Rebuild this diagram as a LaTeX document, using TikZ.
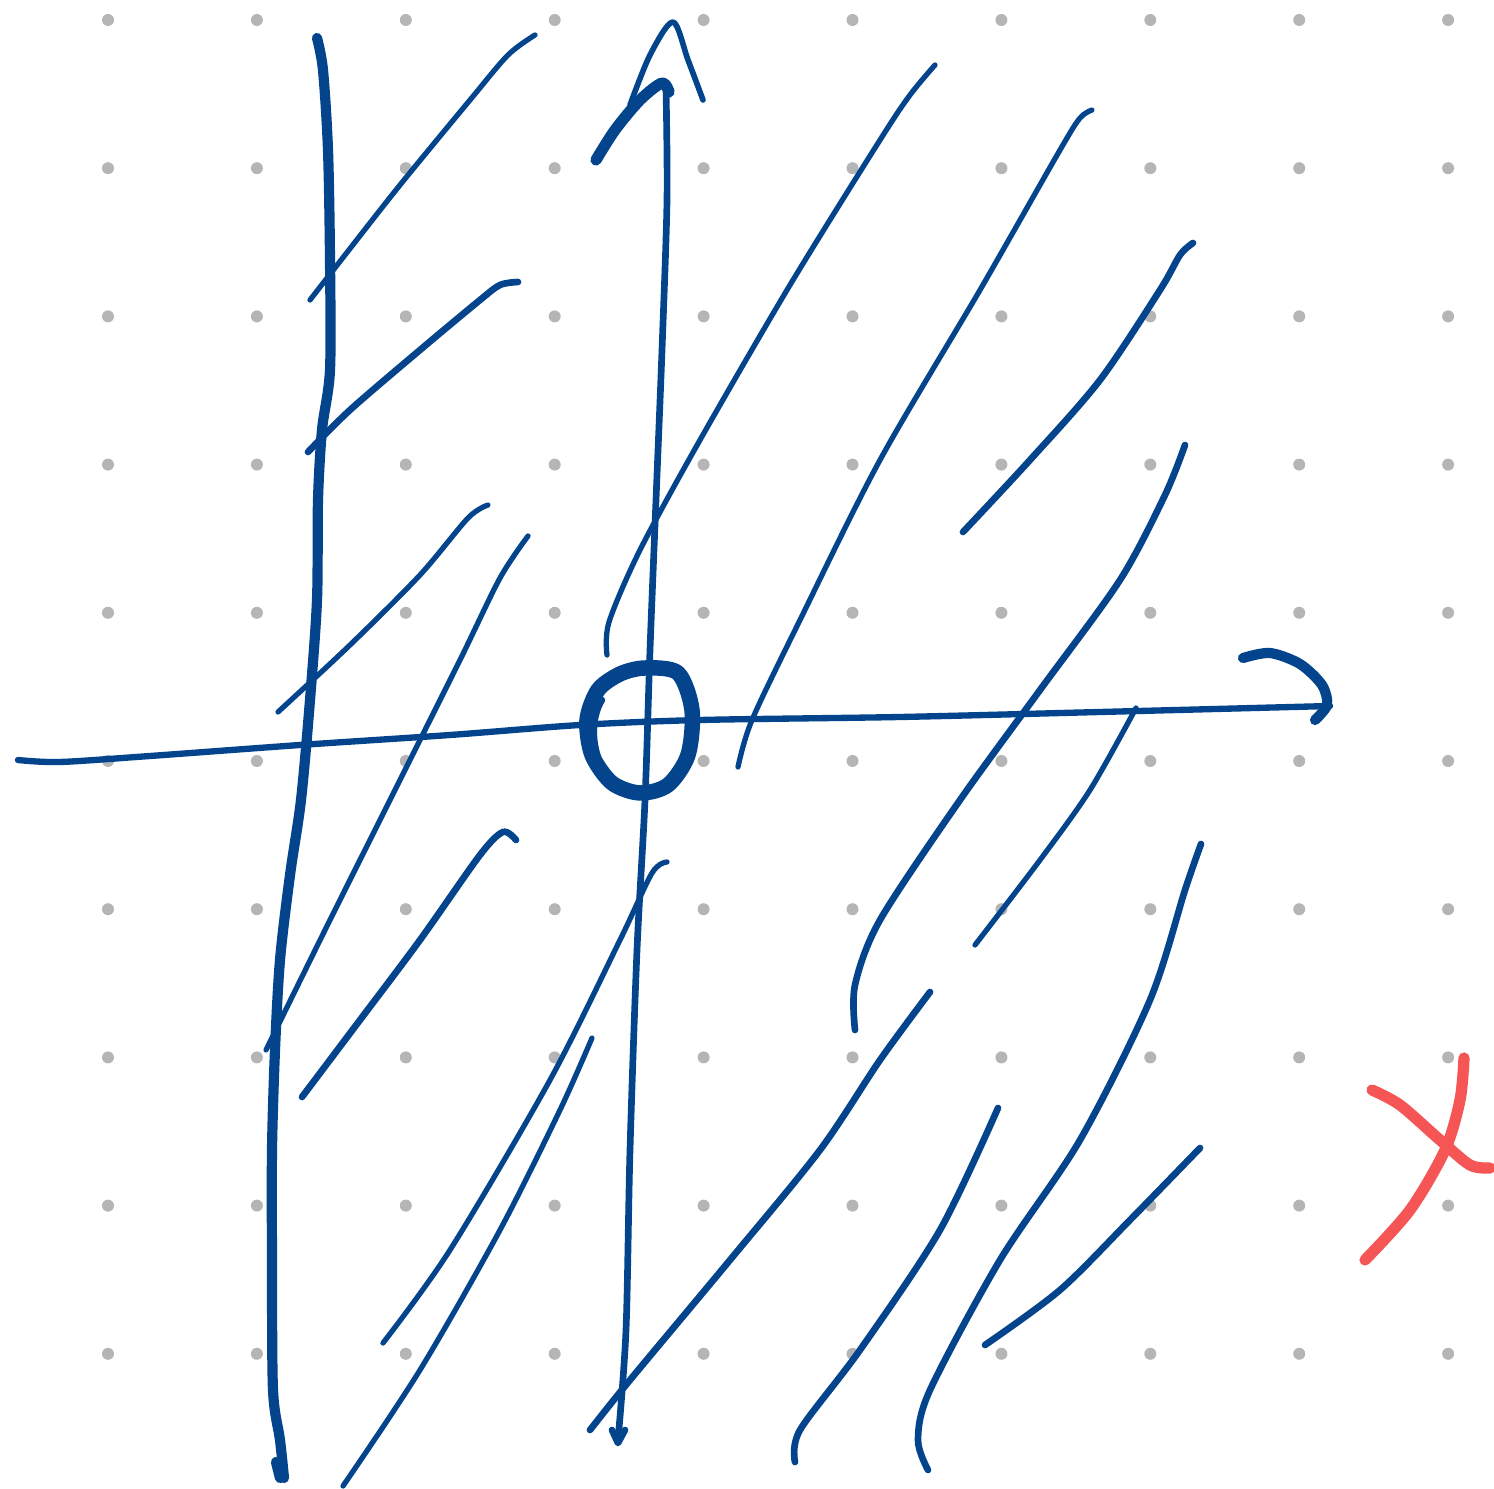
\documentclass[tikz,border=0pt]{standalone}
\usetikzlibrary{calc}

\definecolor{inkblue}{HTML}{03448C}
\definecolor{inkred}{HTML}{F55555}
\definecolor{dotgray}{HTML}{B5B5B5}

\begin{document}
\begin{tikzpicture}[
  x=0.01cm, y=-0.01cm,
  pen/.style={draw=inkblue, line width=1.5pt, line cap=round, line join=round},
  penmid/.style={pen, line width=1.9pt},
  penthick/.style={pen, line width=2.9pt},
  penbold/.style={pen, line width=3.2pt},
  redpen/.style={draw=inkred, line width=3.2pt, line cap=round, line join=round},
  griddot/.style={fill=dotgray}
]
\useasboundingbox (0,0) rectangle (1494,1489);

% dot grid
\foreach \i in {0,...,9}
  \foreach \j in {0,...,9}
    \fill[griddot] ({108+148.9*\i},{20+148.2*\j}) circle (6);

% left thick vertical stroke
\draw[penthick] plot[smooth] coordinates {(317,38) (323,70) (328,150) (330,260) (330,370) (322,430)
  (318,500) (317,600) (310,700) (301,800) (290,875) (280,960) (275,1050) (272,1150)
  (272,1260) (273,1390) (280,1440) (284,1478)};
\draw[penthick] (276,1462) -- (280,1478);

% vertical axis with arrow
\draw[pen, line width=1.9pt] plot[smooth] coordinates {(618,1440) (626,1330) (630,1150) (637,950)
  (645,800) (650,650) (656,500) (662,350) (667,200) (666,88)};
\draw[pen, line width=1.9pt] (612,1430) -- (618,1443) -- (625,1430);
\draw[pen, line width=1.6pt] plot[smooth] coordinates {(630,105) (650,55) (673,22) (688,60) (703,100)};
\draw[penbold] plot[smooth] coordinates {(596,160) (615,130) (640,100) (662,83) (669,92)};

% horizontal axis with arrow
\draw[pen, line width=1.8pt] plot[smooth] coordinates {(18,760) (60,762) (150,756) (300,745)
  (450,735) (580,725) (700,720) (900,717) (1100,712) (1330,706)};
\draw[penthick] plot[smooth] coordinates {(1243,658) (1270,653) (1300,664) (1322,685) (1327,705) (1315,720)};

% origin
\draw[penbold, line width=4.4pt] plot[smooth cycle] coordinates {(645,668) (678,673) (692,710)
  (688,755) (668,785) (640,793) (612,783) (592,755) (587,720) (598,690) (620,674)};
\draw[pen, line width=1.8pt] (602,700) .. controls (590,720) and (592,750) .. (604,770);

% diagonal strokes
\draw[pen] plot[smooth] coordinates {(310,300) (345,255) (400,185) (470,100) (508,55) (535,35)};
\draw[penmid] plot[smooth] coordinates {(308,452) (350,410) (420,350) (480,300) (500,285) (518,282)};
\draw[pen] plot[smooth] coordinates {(278,712) (350,645) (420,575) (468,518) (488,505)};
\draw[pen] plot[smooth] coordinates {(266,1050) (330,920) (400,780) (460,660) (500,578) (528,536)};
\draw[penmid] plot[smooth] coordinates {(302,1097) (360,1020) (420,940) (480,855) (503,832) (516,840)};
\draw[pen] plot[smooth] coordinates {(607,655) (609,622) (640,550) (700,440) (790,285) (880,140) (910,95) (935,65)};
\draw[pen] plot[smooth] coordinates {(738,767) (752,720) (800,620) (880,460) (980,290) (1060,150) (1080,118) (1092,110)};
\draw[penmid] plot[smooth] coordinates {(963,532) (1030,460) (1100,380) (1160,290) (1180,255) (1193,243)};
\draw[penmid] plot[smooth] coordinates {(855,1030) (855,985) (880,920) (960,800) (1040,690) (1120,580) (1165,495) (1185,445)};
\draw[pen] plot[smooth] coordinates {(975,945) (1040,860) (1090,790) (1136,708)};
\draw[pen] plot[smooth] coordinates {(383,1343) (450,1250) (550,1080) (620,940) (652,873) (667,862)};
\draw[pen] plot[smooth] coordinates {(343,1486) (420,1370) (500,1230) (560,1110) (592,1038)};
\draw[penmid] plot[smooth] coordinates {(590,1430) (630,1380) (730,1260) (820,1150) (880,1060) (930,992)};
\draw[penmid] plot[smooth] coordinates {(795,1462) (800,1430) (860,1350) (940,1230) (998,1108)};
\draw[penmid] plot[smooth] coordinates {(928,1470) (918,1440) (930,1390) (1000,1260) (1080,1140) (1150,1000) (1185,890) (1201,844)};
\draw[penmid] plot[smooth] coordinates {(985,1345) (1060,1290) (1130,1220) (1200,1148)};

% red cross
\draw[redpen] plot[smooth] coordinates {(1372,1090) (1400,1105) (1440,1140) (1470,1165) (1490,1168)};
\draw[redpen] plot[smooth] coordinates {(1464,1058) (1460,1100) (1445,1150) (1410,1210) (1365,1260)};
\end{tikzpicture}
\end{document}
